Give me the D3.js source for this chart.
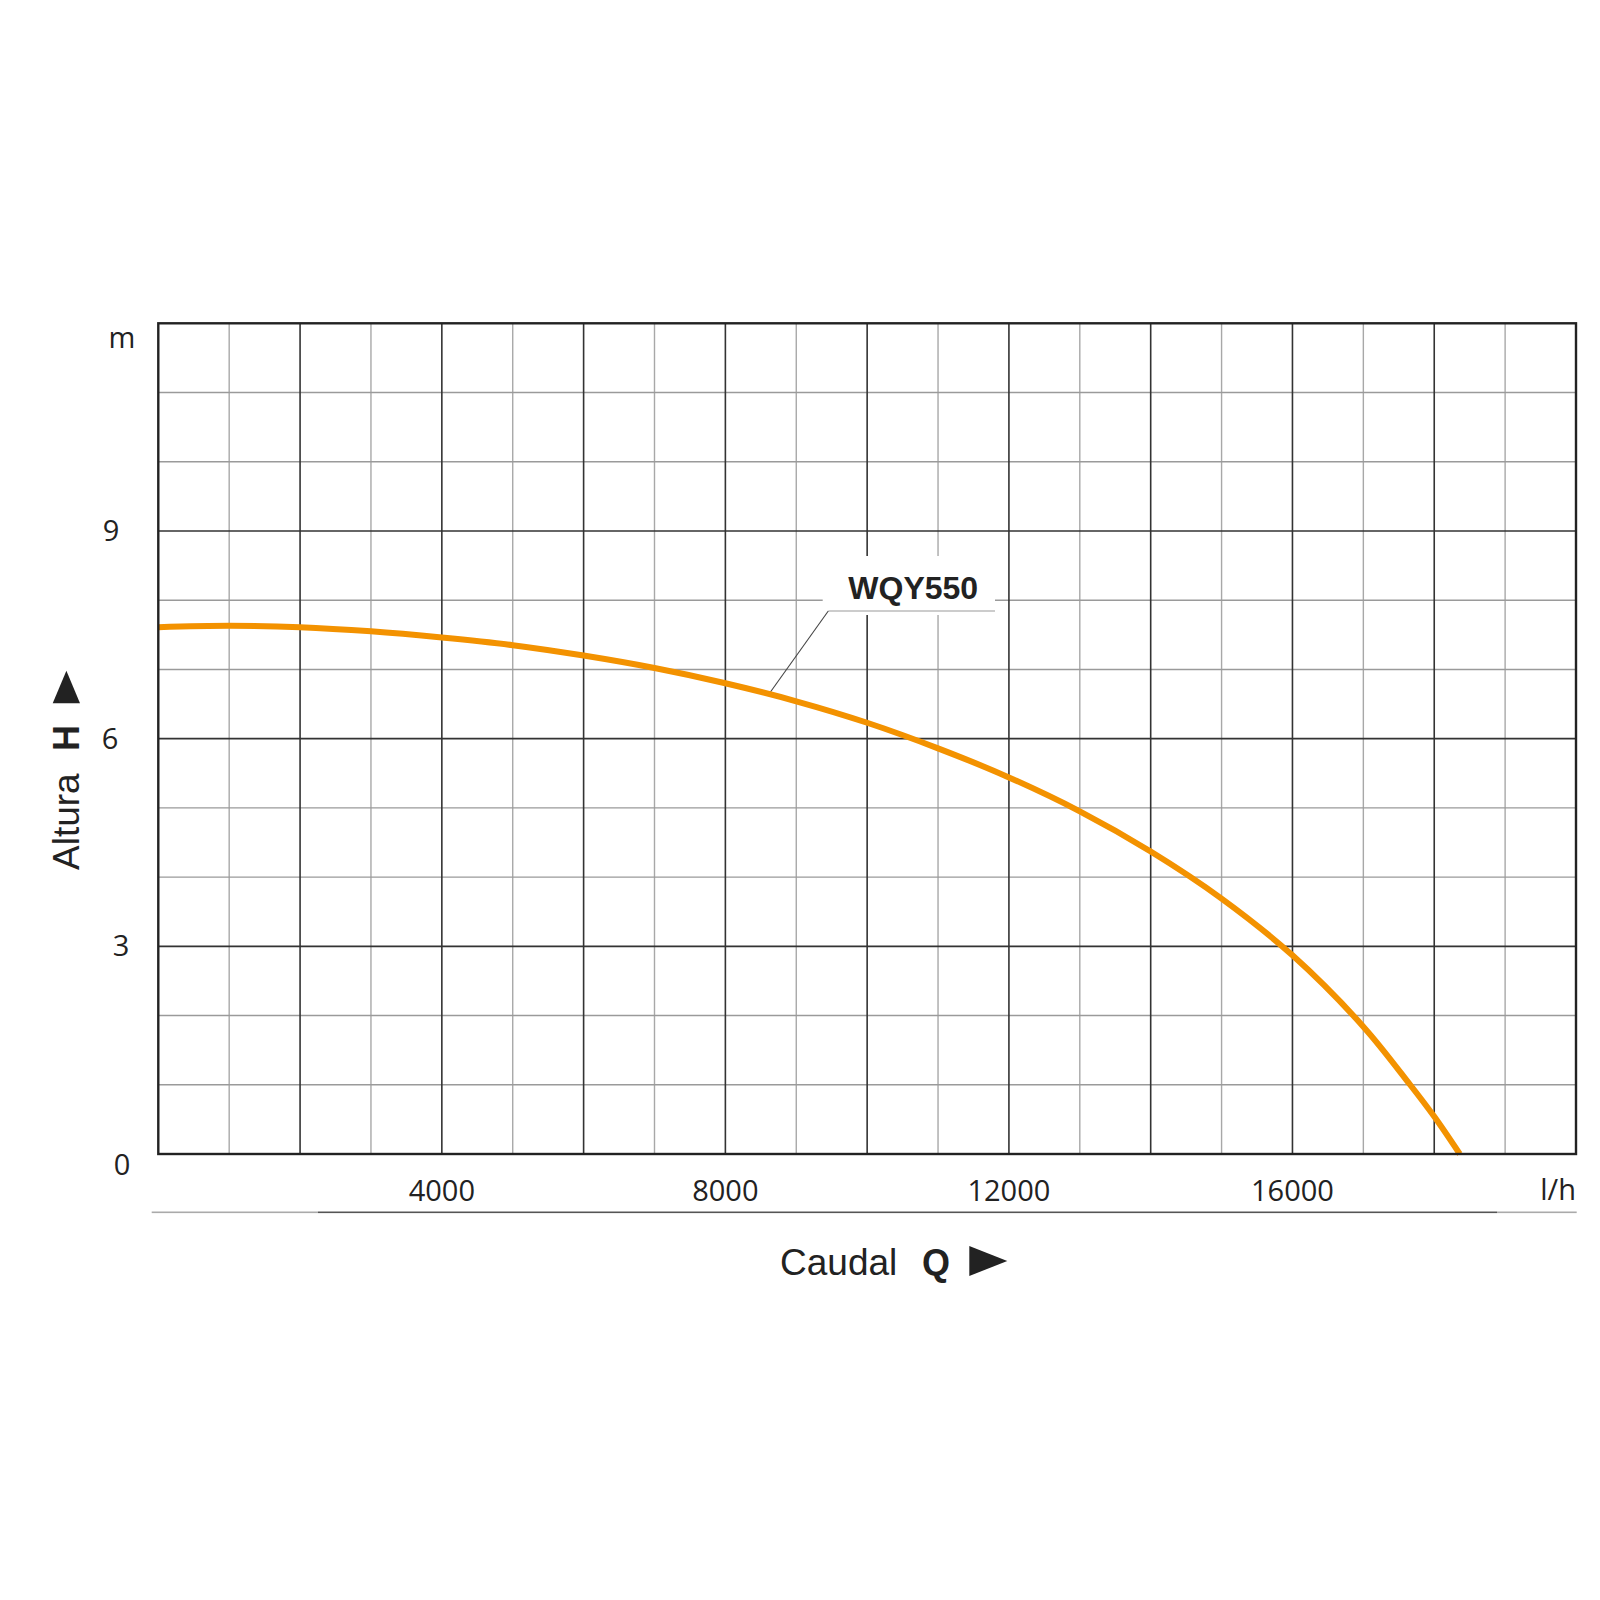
<!DOCTYPE html>
<html>
<head>
<meta charset="utf-8">
<script src="https://cdn.jsdelivr.net/npm/d3@7/dist/d3.min.js"></script>
<style>
html,body{margin:0;padding:0;background:#fff;}
svg{display:block;}
</style>
</head>
<body>
<svg id="chart" width="1600" height="1600"></svg>
<script>
// ---- data ----
const flowQ = [0, 1000, 2000, 3000, 4000, 5000, 6000, 7000, 8000, 9000, 10000, 11000, 12000, 13000, 14000, 15000, 16000, 17000, 17660, 18000, 18360];
const headH = [7.61, 7.63, 7.61, 7.55, 7.46, 7.35, 7.20, 7.02, 6.80, 6.54, 6.23, 5.86, 5.44, 4.95, 4.37, 3.69, 2.87, 1.84, 1.0, 0.54, 0];
const seriesName = "WQY550";
const xTickValues = [4000, 8000, 12000, 16000];
const xTickLabels = ["4000", "8000", "12000", "16000"];
const yTickValues = [0, 3, 6, 9, 12];
const yTickLabels = ["0", "3", "6", "9", "m"];
const xUnit = "l/h";
const xTitle = "Caudal";
const xSymbol = "Q";
const yTitle = "Altura";
const ySymbol = "H";

// ---- layout ----
const svg = d3.select("#chart");
const L = 158.3, R = 1576, T = 323.3, B = 1154;
const x = d3.scaleLinear().domain([0, 20000]).range([L, R]);
const y = d3.scaleLinear().domain([0, 12]).range([B, T]);
const tickFont = "'Open Sans', 'Noto Sans', sans-serif";
const titleFont = "'Liberation Sans', Arial, Helvetica, sans-serif";

// grid
const g = svg.append("g");
const minorX = d3.range(1000, 20000, 1000).filter(v => v % 2000 !== 0);
const majorX = d3.range(2000, 20000, 2000);
const minorY = d3.range(1, 12, 1).filter(v => v % 3 !== 0);
const majorY = d3.range(3, 12, 3);

g.selectAll(".mx").data(minorX).join("line")
  .attr("x1", d => x(d)).attr("x2", d => x(d)).attr("y1", T).attr("y2", B)
  .attr("stroke", "#a8a8a8").attr("stroke-width", 1.4);
g.selectAll(".my").data(minorY).join("line")
  .attr("y1", d => y(d)).attr("y2", d => y(d)).attr("x1", L).attr("x2", R)
  .attr("stroke", "#9a9a9a").attr("stroke-width", 1.4);
g.selectAll(".Mx").data(majorX).join("line")
  .attr("x1", d => x(d)).attr("x2", d => x(d)).attr("y1", T).attr("y2", B)
  .attr("stroke", "#333").attr("stroke-width", 1.6);
g.selectAll(".My").data(majorY).join("line")
  .attr("y1", d => y(d)).attr("y2", d => y(d)).attr("x1", L).attr("x2", R)
  .attr("stroke", "#333").attr("stroke-width", 1.6);

// label backing box + leader
const lab = svg.append("g");
lab.append("rect").attr("x", 822.7).attr("y", 556).attr("width", 172.3).attr("height", 59).attr("fill", "#fff");
lab.append("line").attr("x1", 828.3).attr("y1", 611).attr("x2", 995).attr("y2", 611)
  .attr("stroke", "#999").attr("stroke-width", 1.2);

// curve
const pts = flowQ.map((q, i) => [q, headH[i]]);
svg.append("path")
  .datum(pts)
  .attr("d", d3.line().x(d => x(d[0])).y(d => y(d[1])).curve(d3.curveCatmullRom.alpha(0.5)))
  .attr("fill", "none").attr("stroke", "#f39200").attr("stroke-width", 6);

// leader diagonal (to a point on the curve)
lab.append("line").attr("x1", 828.3).attr("y1", 611).attr("x2", 768.3).attr("y2", 695)
  .attr("stroke", "#444").attr("stroke-width", 1.1);
lab.append("text").attr("x", 848.3).attr("y", 599.3)
  .attr("font-family", titleFont).attr("font-weight", "bold").attr("font-size", 32)
  .attr("fill", "#222").text(seriesName);

// frame
svg.append("rect").attr("x", L).attr("y", T).attr("width", R - L).attr("height", B - T)
  .attr("fill", "none").attr("stroke", "#222").attr("stroke-width", 2.4);

// y tick labels
const yLabelX = {0: 122, 3: 121, 6: 110, 9: 111, 12: 122};
const yLabelDy = {0: 11, 3: 0, 6: 0, 9: 0, 12: 15};
svg.selectAll(".yt").data(yTickValues).join("text")
  .attr("x", d => yLabelX[d]).attr("y", d => y(d) + yLabelDy[d])
  .attr("dy", "0.35em").attr("text-anchor", "middle")
  .attr("font-family", tickFont).attr("font-size", 29).attr("fill", "#222")
  .text((d, i) => yTickLabels[i]);

// x tick labels
svg.selectAll(".xt").data(xTickValues).join("text")
  .attr("x", d => x(d)).attr("y", 1201)
  .attr("text-anchor", "middle")
  .attr("font-family", tickFont).attr("font-size", 29).attr("fill", "#222")
  .text((d, i) => xTickLabels[i]);
svg.append("text").attr("x", R).attr("y", 1200).attr("text-anchor", "end")
  .attr("font-family", tickFont).attr("font-size", 29).attr("fill", "#222").text(xUnit);

// bottom rule with lighter ends
const defs = svg.append("defs");
const grad = defs.append("linearGradient").attr("id", "rule")
  .attr("gradientUnits", "userSpaceOnUse").attr("x1", 151.7).attr("x2", 1576.7).attr("y1", 0).attr("y2", 0);
const f1 = (318 - 151.7) / (1576.7 - 151.7), f2 = (1497 - 151.7) / (1576.7 - 151.7);
[[0, "#aaa"], [f1, "#aaa"], [f1, "#555"], [f2, "#555"], [f2, "#aaa"], [1, "#aaa"]].forEach(s =>
  grad.append("stop").attr("offset", s[0]).attr("stop-color", s[1]));
svg.append("rect").attr("x", 151.7).attr("y", 1211.5).attr("width", 1576.7 - 151.7).attr("height", 1.6)
  .attr("fill", "url(#rule)");

// x title
const xt = svg.append("text").attr("x", 780).attr("y", 1275)
  .attr("font-family", titleFont).attr("font-size", 37).attr("fill", "#222");
xt.append("tspan").text(xTitle);
svg.append("text").attr("x", 922).attr("y", 1275)
  .attr("font-family", titleFont).attr("font-size", 36).attr("font-weight", "bold").attr("fill", "#222").text(xSymbol);
svg.append("path").attr("d", "M969.3,1246 L969.3,1276 L1007.3,1261 Z").attr("fill", "#222");

// y title
svg.append("text").attr("transform", "translate(79,870) rotate(-90)")
  .attr("font-family", titleFont).attr("font-size", 37).attr("fill", "#222").text(yTitle);
svg.append("text").attr("transform", "translate(79,751) rotate(-90)")
  .attr("font-family", titleFont).attr("font-size", 36).attr("font-weight", "bold").attr("fill", "#222").text(ySymbol);
svg.append("path").attr("d", "M52.7,703.3 L80,703.3 L66.4,670.7 Z").attr("fill", "#222");
</script>
</body>
</html>
